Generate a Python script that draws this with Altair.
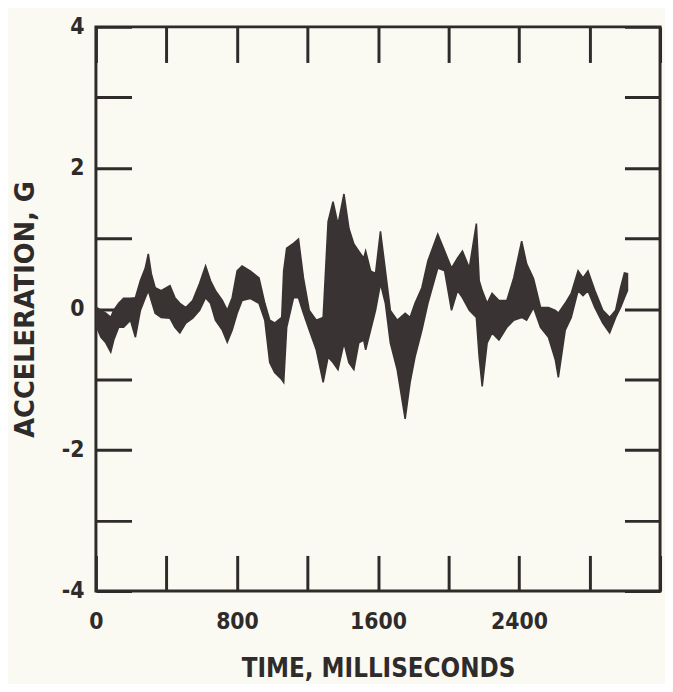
import altair as alt
import pandas as pd

# Time (ms) and the upper / lower edges of the plotted trace band (G)
time_ms = [5, 28, 56, 84, 101, 129, 157, 196, 224, 252, 280, 297, 314, 336, 370, 420, 448, 476, 510, 549,
           588, 622, 650, 678, 717, 745, 773, 801, 829, 874, 925, 958, 986, 1014, 1054, 1065, 1082, 1121, 1149, 1177,
           1210, 1250, 1289, 1317, 1345, 1373, 1407, 1435, 1463, 1491, 1519, 1530, 1558, 1586, 1614, 1642, 1670, 1709, 1754, 1782,
           1810, 1849, 1883, 1939, 1978, 2017, 2051, 2079, 2118, 2158, 2174, 2191, 2219, 2247, 2286, 2331, 2370, 2415, 2443, 2482,
           2522, 2567, 2606, 2623, 2662, 2696, 2735, 2763, 2791, 2830, 2875, 2914, 2948, 2976, 2998, 3015]
upper_g = [0.02, -0.02, -0.06, -0.12, -0.02, 0.08, 0.15, 0.15, 0.16, 0.40, 0.58, 0.78, 0.50, 0.30, 0.26, 0.33, 0.16, 0.08, 0.02, 0.12,
           0.36, 0.61, 0.40, 0.26, 0.12, -0.02, 0.16, 0.54, 0.61, 0.54, 0.44, 0.08, -0.16, -0.20, -0.12, 0.54, 0.86, 0.93, 0.99, 0.44,
           -0.02, -0.16, -0.12, 1.24, 1.52, 1.20, 1.63, 1.14, 0.92, 0.82, 0.72, 0.82, 0.54, 0.50, 1.10, 0.54, -0.02, -0.16, -0.06, -0.12,
           0.08, 0.30, 0.68, 1.06, 0.82, 0.58, 0.72, 0.82, 0.58, 1.21, 0.40, 0.26, 0.08, 0.22, 0.12, 0.12, 0.44, 0.96, 0.64, 0.43,
           0.02, 0.02, -0.02, -0.06, 0.08, 0.22, 0.54, 0.44, 0.54, 0.26, -0.02, -0.12, -0.02, 0.30, 0.51, 0.50]
lower_g = [-0.26, -0.40, -0.48, -0.61, -0.44, -0.26, -0.26, -0.16, -0.40, -0.02, 0.16, 0.26, 0.12, -0.06, -0.12, -0.13, -0.26, -0.34, -0.20, -0.13,
           -0.02, 0.16, 0.08, -0.16, -0.30, -0.47, -0.30, -0.06, 0.12, 0.15, 0.08, -0.16, -0.76, -0.90, -1.00, -1.04, -0.26, 0.16, 0.16, -0.06,
           -0.30, -0.58, -1.04, -0.68, -0.76, -0.86, -0.48, -0.76, -0.86, -0.48, -0.44, -0.58, -0.30, -0.02, 0.36, 0.08, -0.48, -0.86, -1.56, -1.04,
           -0.68, -0.30, 0.08, 0.58, 0.54, -0.02, 0.26, 0.16, -0.02, -0.12, -0.68, -1.10, -0.48, -0.34, -0.44, -0.26, -0.16, -0.12, -0.16, 0.02,
           -0.26, -0.40, -0.72, -0.97, -0.30, -0.12, 0.26, 0.19, 0.26, 0.02, -0.20, -0.34, -0.12, 0.02, 0.16, 0.26]

x_ticks = [0, 400, 800, 1200, 1600, 2000, 2400, 2800, 3200]
y_ticks = [-4, -3, -2, -1, 0, 1, 2, 3, 4]

df = pd.DataFrame({"t": time_ms, "hi": upper_g, "lo": lower_g})

FONT = "DejaVu Sans Condensed, Liberation Sans Narrow, DejaVu Sans, sans-serif"
WIDE = "DejaVu Sans, sans-serif"
INK = "#2f2b2b"
TRACE = "#3a3333"

xscale = alt.Scale(domain=[0, 3200], nice=False, zero=False)
yscale = alt.Scale(domain=[-4, 4], nice=False, zero=False)

common = dict(offset=-36, tickSize=36, tickWidth=3, tickColor=INK, domain=False, grid=False,
              labelFont=FONT, labelFontWeight="bold", labelFontSize=23, labelColor=INK,
              labelOverlap=False, labelFlush=False,
              titleFontWeight="bold", titleColor=INK)

band = alt.Chart(df).mark_area(color=TRACE, stroke=TRACE, strokeWidth=1.6).encode(
    x=alt.X("t:Q", scale=xscale,
            axis=alt.Axis(orient="bottom", values=x_ticks,
                          labelExpr="(datum.value % 800 == 0 && datum.value < 3200) ? '' + datum.value : ''",
                          labelPadding=20, title="TIME, MILLISECONDS", titleFont=FONT, titleFontSize=26,
                          titlePadding=23, **common)),
    y=alt.Y("hi:Q", scale=yscale,
            axis=alt.Axis(orient="left", values=y_ticks,
                          labelExpr="(datum.value % 2 == 0) ? '' + datum.value : ''",
                          labelPadding=12, title="ACCELERATION, G", titleFont=WIDE, titleFontSize=26,
                          titlePadding=23, **common)),
    y2="lo:Q",
)

frame = alt.Chart(df).mark_point(opacity=0).encode(
    x=alt.X("t:Q", scale=xscale,
            axis=alt.Axis(orient="top", values=x_ticks, labels=False, title=None,
                          offset=-36, tickSize=36, tickWidth=3, tickColor=INK, domain=False, grid=False)),
    y=alt.Y("hi:Q", scale=yscale,
            axis=alt.Axis(orient="right", values=y_ticks, labels=False, title=None,
                          offset=-36, tickSize=36, tickWidth=3, tickColor=INK, domain=False, grid=False)),
)

chart = alt.layer(band, frame).resolve_axis(x="independent", y="independent").properties(
    width=571, height=571,
    autosize=alt.AutoSizeParams(type="none"),
    padding={"left": 89, "top": 15, "right": 5, "bottom": 90},
    background="#faf9f2",
).configure_view(stroke=INK, strokeWidth=3)

chart.save("out.html", embed_options={"renderer": "svg", "actions": False})
